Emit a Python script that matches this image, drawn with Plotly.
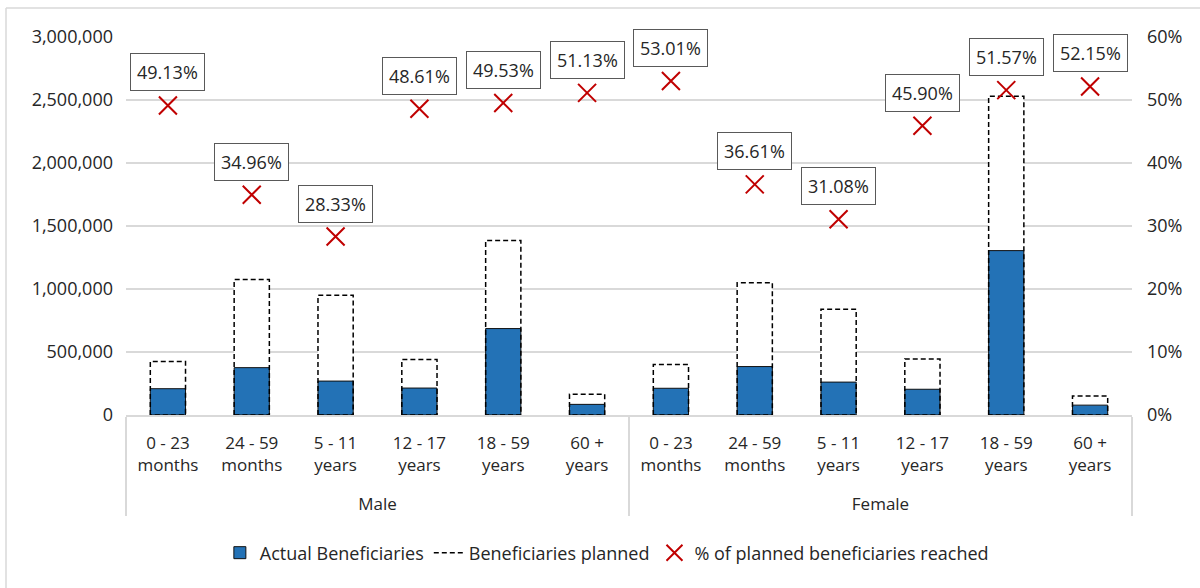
import plotly.graph_objects as go

# Beneficiary data by sex and age group
sexes = ["Male"] * 6 + ["Female"] * 6
age_groups = [
    "0 - 23<br>months", "24 - 59<br>months", "5 - 11<br>years",
    "12 - 17<br>years", "18 - 59<br>years", "60 +<br>years",
] * 2
planned = [425000, 1075000, 950000, 440000, 1385000, 165000,
           400000, 1050000, 840000, 445000, 2530000, 150000]
pct_reached = [0.4913, 0.3496, 0.2833, 0.4861, 0.4953, 0.5113,
               0.5301, 0.3661, 0.3108, 0.4590, 0.5157, 0.5215]
actual = [round(p * r) for p, r in zip(planned, pct_reached)]

BLUE = "#2372B6"
RED = "#C00000"
GRID = "#D9D9D9"
TEXT = "#262626"
FONT = "Open Sans"
BAR_W = 0.42

n = len(planned)
idx = list(range(n))

# inner labels get a tall blank trailing line to open space above the sex labels
inner_labels = [lab + "<br><span style='font-size:32px'>&nbsp;</span>"
                for lab in age_groups]

fig = go.Figure()

# Planned bars: white body that hides the gridlines
fig.add_trace(go.Bar(
    x=[sexes, inner_labels], y=planned, width=BAR_W,
    marker=dict(color="white", line=dict(width=0)),
    showlegend=False, hoverinfo="skip",
))

# Actual beneficiaries
fig.add_trace(go.Bar(
    x=[sexes, inner_labels], y=actual, width=BAR_W,
    name="Actual Beneficiaries",
    marker=dict(color=BLUE, line=dict(color="#111111", width=1)),
))

# Dashed outline of planned bars, traced on a numeric overlay axis
ox, oy = [], []
for i, p in zip(idx, planned):
    x0, x1 = i - BAR_W / 2, i + BAR_W / 2
    ox += [x0, x0, x1, x1, x0, None]
    oy += [0, p, p, 0, 0, None]
fig.add_trace(go.Scatter(
    x=ox, y=oy, xaxis="x3", yaxis="y", mode="lines",
    line=dict(color="black", width=1.5, dash="5px,3px"),
    name="Beneficiaries planned", hoverinfo="skip",
))

# Percentage reached markers on secondary axis
fig.add_trace(go.Scatter(
    x=idx, y=pct_reached, xaxis="x3", yaxis="y2", mode="markers",
    marker=dict(symbol="x-thin-open", size=18, color=RED,
                line=dict(color=RED, width=2)),
    name="% of planned beneficiaries reached",
))

# Value boxes above each marker
for i, r in zip(idx, pct_reached):
    fig.add_annotation(
        x=i, y=r, xref="x3", yref="y2",
        text=f"{r * 100:.2f}%", showarrow=False,
        yshift=33, yanchor="middle",
        font=dict(family=FONT, size=18, color=TEXT),
        bgcolor="white", bordercolor="#595959", borderwidth=1, borderpad=6,
    )

fig.update_layout(
    width=1200, height=588,
    margin=dict(l=126, r=68, t=37, b=173),
    paper_bgcolor="white", plot_bgcolor="white",
    barmode="overlay",
    font=dict(family=FONT, size=17, color=TEXT),
    xaxis=dict(
        type="multicategory", range=[-0.5, n - 0.5],
        showline=True, linecolor=GRID, linewidth=1.5,
        showdividers=True, dividercolor=GRID, dividerwidth=1.5,
        ticks="", showgrid=False, ticklabelstandoff=12,
        tickfont=dict(family=FONT, size=17, color=TEXT),
    ),
    xaxis3=dict(
        overlaying="x", range=[-0.5, n - 0.5], visible=False,
    ),
    yaxis=dict(
        range=[0, 3000000], dtick=500000, tickformat=",d",
        showgrid=True, gridcolor=GRID, gridwidth=1.5,
        zeroline=False, showline=False, ticks="",
        ticklabelstandoff=12,
        tickfont=dict(family=FONT, size=18, color=TEXT),
    ),
    yaxis2=dict(
        overlaying="y", side="right", range=[0, 0.6], dtick=0.1,
        tickformat=".0%", showgrid=False, zeroline=False, showline=False,
        ticks="", ticklabelstandoff=14,
        tickfont=dict(family=FONT, size=18, color=TEXT),
    ),
    legend=dict(
        orientation="h", x=0.478, xanchor="center", y=-0.365, yanchor="middle",
        font=dict(family=FONT, size=18, color=TEXT),
        traceorder="normal", itemwidth=30,
    ),
    shapes=[
        # chart frame: left and top edges
        dict(type="line", xref="paper", yref="paper",
             x0=-120 / 1006, x1=-120 / 1006, y0=(415 - 8) / 378, y1=-173 / 378,
             line=dict(color=GRID, width=1.5)),
        dict(type="line", xref="paper", yref="paper",
             x0=-120 / 1006, x1=1074 / 1006, y0=(415 - 8) / 378, y1=(415 - 8) / 378,
             line=dict(color=GRID, width=1.5)),
    ],
)

fig.write_html("out.html")
